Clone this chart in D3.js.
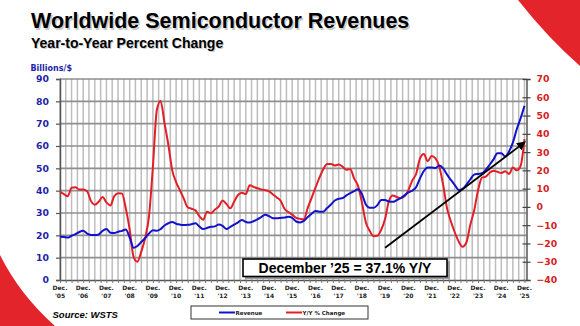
<!DOCTYPE html>
<html><head><meta charset="utf-8">
<script src="https://cdn.jsdelivr.net/npm/d3@7"></script>
<style>
html,body{margin:0;padding:0;background:#fff;}
svg{display:block;}
</style></head>
<body>
<svg id="chart" width="580" height="326"></svg>
<script>
// ---------- DATA (every 2 months, Dec 2005 .. Dec 2025) ----------
const revenue = [
19.4,19.3,19.0,19.8,20.5,21.5,22.0,20.8,20.2,20.1,20.4,22.0,
22.8,21.2,21.0,21.6,22.0,22.6,19.0,14.4,15.2,17.0,18.8,20.8,
22.3,22.0,22.8,24.4,25.4,26.0,25.2,24.8,24.6,24.7,25.0,25.4,
24.0,22.8,23.3,23.8,24.0,24.8,24.2,22.8,23.8,24.8,25.8,26.9,
26.0,25.7,26.3,27.2,28.2,29.2,28.6,27.7,27.6,27.8,28.0,28.3,
27.8,26.2,25.8,26.5,28.2,29.7,30.9,30.6,30.6,32.2,33.8,35.6,
36.4,36.7,37.9,38.9,39.8,40.6,38.5,33.8,32.4,32.3,33.5,35.8,
35.8,35.1,35.0,35.8,36.6,37.9,39.2,40.0,41.5,45.5,48.8,50.4,
50.4,50.2,51.3,50.0,47.2,44.8,42.5,40.3,40.8,42.7,45.0,47.2,
47.5,47.8,49.4,51.6,54.0,56.8,56.8,55.3,57.5,61.5,67.5,72.4,
78.0];
const yoyChange = [
8.3,7.0,5.8,10.5,10.8,9.5,9.5,8.5,3.3,1.2,2.8,5.4,
2.5,0.8,5.8,7.5,7.4,-0.8,-12.5,-27.5,-30.0,-24.5,-17.0,-5.0,
22.0,53.0,58.0,46.0,34.0,20.0,13.6,9.0,4.5,-0.2,-1.0,-1.9,
-5.0,-7.0,-2.6,-3.5,-1.5,0.2,3.5,1.5,-0.8,3.0,6.5,7.8,
7.0,11.8,11.0,10.2,9.6,9.2,8.5,6.8,5.2,3.4,-1.0,-2.8,
-4.2,-6.0,-6.5,-6.8,-0.5,5.0,10.5,16.0,20.5,23.5,23.5,22.7,
23.2,22.0,20.3,20.8,15.5,11.5,2.5,-8.5,-13.0,-16.0,-15.8,-12.5,
-6.5,3.5,6.2,5.4,4.8,5.8,9.2,14.5,18.0,26.5,29.0,25.0,
27.8,26.5,22.0,12.0,-0.8,-8.0,-14.0,-19.0,-21.8,-19.5,-9.9,-2.0,
9.0,16.0,16.6,18.7,19.8,19.2,18.5,19.5,18.0,21.5,20.0,22.5,
37.1];
const leftTicks = [0,10,20,30,40,50,60,70,80,90];
const rightTicks = [-40,-30,-20,-10,0,10,20,30,40,50,60,70];
const yearLabels = ["'05","'06","'07","'08","'09","'10","'11","'12","'13","'14","'15",
                    "'16","'17","'18","'19","'20","'21","'22","'23","'24","'25"];
const seriesNames = ["Revenue","Y/Y % Change"];
const trendArrow = [{year:2019, month:11, pct:-22.3},{year:2025, month:11, pct:35.3}];
const titleText = "Worldwide Semiconductor Revenues";
const subtitleText = "Year-to-Year Percent Change";
const calloutText = "December \u201925 = 37.1% Y/Y";
const sourceText = "Source: WSTS";

// ---------- SETUP ----------
const svg = d3.select("#chart");
const startDate = new Date(2005,11,1), endDate = new Date(2025,11,1);
const dates = revenue.map((_,i)=> new Date(2005, 11 + 2*i, 1));
const x = d3.scaleTime().domain([startDate,endDate]).range([60,524.5]);
const yL = d3.scaleLinear().domain([0,90]).range([280,79]);
const yR = d3.scaleLinear().domain([-40,70]).range([280,79]);
const RED = "#e41e26", BLUE="#1212cc", LRED="#e3242b";

svg.append("rect").attr("width",580).attr("height",326).attr("fill","#fff");

// decorative red shapes
svg.append("path").attr("d","M518,0 Q548,38 580,66 L580,0 Z").attr("fill",LRED);
svg.append("path").attr("d","M0,255 Q20,295 55,326 L0,326 Z").attr("fill",LRED);

// titles
const tg = svg.append("g").attr("font-family","'Liberation Sans', Arial, sans-serif").attr("font-weight","bold");
tg.append("text").attr("x",32.5).attr("y",29.5).attr("font-size",21.5).attr("fill","#aaa").attr("opacity",0.6).text(titleText);
tg.append("text").attr("x",31).attr("y",28).attr("font-size",21.5).attr("fill","#000").text(titleText);
tg.append("text").attr("x",32).attr("y",49.3).attr("font-size",14).attr("fill","#aaa").attr("opacity",0.6).text(subtitleText);
tg.append("text").attr("x",31).attr("y",48.3).attr("font-size",14).attr("fill","#000").text(subtitleText);

svg.append("text").attr("x",30.5).attr("y",70.5).attr("font-family","'DejaVu Sans', Verdana, sans-serif")
  .attr("font-weight","bold").attr("font-size",8).attr("fill","#1f1fa8").text("Billions/$");

// grid
const quarters = d3.range(0,81).map(q=> new Date(2005, 11+3*q, 1));
svg.append("g").selectAll("line").data(quarters).join("line")
  .attr("x1",d=>x(d)).attr("x2",d=>x(d)).attr("y1",79).attr("y2",280)
  .attr("stroke","#bdbdbd").attr("stroke-width",1.5);
svg.append("g").selectAll("line").data(leftTicks.filter(v=>v>0)).join("line")
  .attr("x1",60).attr("x2",526.5).attr("y1",d=>yL(d)).attr("y2",d=>yL(d))
  .attr("stroke","#8f8f8f").attr("stroke-width",1.6);

// left axis
const la = svg.append("g").attr("transform","translate(60,0)")
  .call(d3.axisLeft(yL).tickValues(leftTicks).tickSize(4).tickPadding(7).tickFormat(d3.format("d")));
la.select(".domain").attr("stroke","#555").attr("stroke-width",1.5);
la.selectAll(".tick line").attr("stroke","#555").attr("stroke-width",1.2);
la.selectAll("text").attr("font-family","'DejaVu Sans', Verdana, sans-serif").attr("font-weight","bold")
  .attr("font-size",9.3).attr("fill","#1f1fa8");

// right axis
const ra = svg.append("g").attr("transform","translate(526.5,0)")
  .call(d3.axisRight(yR).tickValues(rightTicks).tickSize(4).tickPadding(6).tickFormat(d3.format("d")));
ra.select(".domain").attr("stroke","#555").attr("stroke-width",1.5);
ra.selectAll(".tick line").attr("x1",-4).attr("stroke","#444").attr("stroke-width",1.2);
ra.selectAll("text").attr("font-family","'DejaVu Sans', Verdana, sans-serif").attr("font-weight","bold")
  .attr("font-size",9.3).attr("fill","#d41f25");

// bottom axis
const ba = svg.append("g").attr("transform","translate(0,280)")
  .call(d3.axisBottom(x).tickValues(quarters).tickSize(3).tickFormat(""));
ba.select(".domain").attr("stroke","#555").attr("stroke-width",1.5).attr("d","M60,0.5H526.5");
ba.selectAll(".tick line").attr("stroke","#777").attr("stroke-width",1);
const xl = svg.append("g").attr("font-family","'DejaVu Sans', Verdana, sans-serif").attr("font-weight","bold")
  .attr("font-size",6).attr("fill","#222").attr("text-anchor","middle");
yearLabels.forEach((lab,k)=>{
  const xx = x(new Date(2005+k,11,1));
  xl.append("text").attr("x",xx).attr("y",289.5).text("Dec.");
  xl.append("text").attr("x",xx).attr("y",297.5).text(lab);
});

// series
const lineRev = d3.line().x((d,i)=>x(dates[i])).y(d=>yL(d)).curve(d3.curveMonotoneX);
const lineYoy = d3.line().x((d,i)=>x(dates[i])).y(d=>yR(d)).curve(d3.curveMonotoneX);
svg.append("path").datum(yoyChange).attr("d",lineYoy).attr("fill","none").attr("stroke",RED).attr("stroke-width",2).attr("stroke-linejoin","round");
svg.append("path").datum(revenue).attr("d",lineRev).attr("fill","none").attr("stroke",BLUE).attr("stroke-width",2).attr("stroke-linejoin","round");

// trend arrow
const defs = svg.append("defs");
defs.append("marker").attr("id","ah").attr("viewBox","0 0 10 10").attr("refX",8).attr("refY",5)
  .attr("markerWidth",5).attr("markerHeight",5).attr("orient","auto")
  .append("path").attr("d","M0,0 L10,5 L0,10 Z").attr("fill","#000");
const ap = trendArrow.map(a=>[x(new Date(a.year,a.month,1)), yR(a.pct)]);
svg.append("line").attr("x1",ap[0][0]).attr("y1",ap[0][1]).attr("x2",ap[1][0]).attr("y2",ap[1][1])
  .attr("stroke","#000").attr("stroke-width",1.8).attr("marker-end","url(#ah)");

// callout box
svg.append("rect").attr("x",245).attr("y",261).attr("width",205).attr("height",18).attr("fill","#999");
svg.append("rect").attr("x",243).attr("y",259).attr("width",204).attr("height",17.5).attr("fill","#fff").attr("stroke","#000").attr("stroke-width",1.6);
svg.append("text").attr("x",345).attr("y",272.8).attr("text-anchor","middle")
  .attr("font-family","'Liberation Sans', Arial, sans-serif").attr("font-weight","bold").attr("font-size",14).attr("fill","#000")
  .text(calloutText);

// legend
svg.append("rect").attr("x",191).attr("y",306).attr("width",177).attr("height",13).attr("fill","#fff").attr("stroke","#333").attr("stroke-width",1);
const lg = svg.append("g").attr("font-family","'DejaVu Sans', Verdana, sans-serif").attr("font-weight","bold").attr("font-size",5.5).attr("fill","#222");
const legendItems = [{name:seriesNames[0], color:BLUE, x0:219},{name:seriesNames[1], color:RED, x0:286}];
legendItems.forEach(it=>{
  lg.append("line").attr("x1",it.x0).attr("x2",it.x0+16).attr("y1",312.5).attr("y2",312.5).attr("stroke",it.color).attr("stroke-width",2);
  lg.append("text").attr("x",it.x0+16.5).attr("y",314.5).text(it.name);
});

// source
svg.append("text").attr("x",52.5).attr("y",317.5).attr("font-family","'Liberation Sans', Arial, sans-serif")
  .attr("font-weight","bold").attr("font-style","italic").attr("font-size",9.5).attr("fill","#000").text(sourceText);
</script>
</body></html>
